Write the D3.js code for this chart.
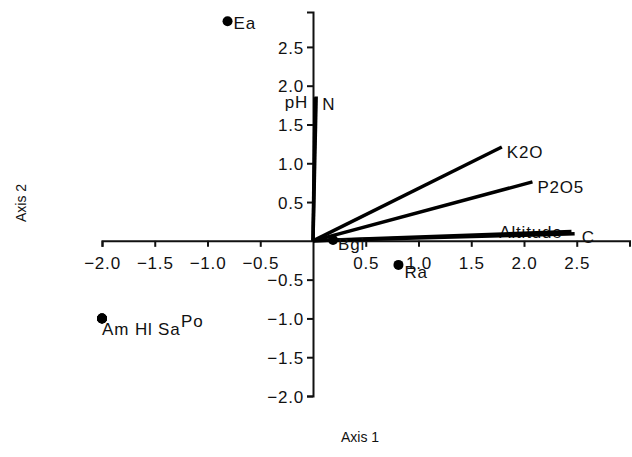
<!DOCTYPE html>
<html>
<head>
<meta charset="utf-8">
<script src="https://cdn.jsdelivr.net/npm/d3@7"></script>
<style>
body { margin: 0; background: #fff; }
svg text { font-family: "Liberation Sans", Arial, sans-serif; fill: #111; }
</style>
</head>
<body>
<svg id="chart" width="632" height="457"></svg>
<script>
// biplot: sites as points, variables as vectors

var xTicks = [-2.0, -1.5, -1.0, -0.5, 0.5, 1.0, 1.5, 2.0, 2.5];
var yTicks = [2.5, 2.0, 1.5, 1.0, 0.5, -0.5, -1.0, -1.5, -2.0];

var vecNames = ['pH', 'N', 'K2O', 'P2O5', 'Altitude', 'C'];
var vecX = [0.02, 0.03, 1.79, 2.08, 2.45, 2.48];
var vecY = [1.85, 1.86, 1.21, 0.76, 0.12, 0.09];

var siteNames = ['Ea', 'Ra', 'Bgi', 'Am', 'Hl', 'Sa', 'Po'];
var siteX = [-0.81, 0.81, 0.19, -2.0, -2.0, -2.0, -2.0];
var siteY = [2.83, -0.31, 0.01, -1.0, -1.0, -1.0, -1.0];

// label nudges (px) so the overlapping ones can be read
var vecLab = {
	'pH': [-7, 11, 'end'], 'N': [6, 13, 'start'], 'K2O': [5, 11, 'start'],
	'P2O5': [5, 11, 'start'], 'Altitude': [-9, 6, 'end'], 'C': [7, 9, 'start']
};
var siteLab = {
	'Ea': [6, 8], 'Ra': [6, 13], 'Bgi': [5, 10],
	'Am': [0, 17], 'Hl': [33, 17], 'Sa': [56, 17], 'Po': [79, 9]
};

var svg = d3.select('#chart');

var x = d3.scaleLinear().domain([-2, 3]).range([102, 629.5]);
var y = d3.scaleLinear().domain([-2, 2.95]).range([396, 12]);

var xAxis = d3.axisBottom(x).tickValues(xTicks).tickSize(6).tickPadding(10)
	.tickFormat(d3.format('.1f'));
var yAxis = d3.axisLeft(y).tickValues(yTicks).tickSize(6).tickPadding(3)
	.tickFormat(d3.format('.1f'));

var gx = svg.append('g').attr('transform', 'translate(0,' + y(0) + ')').call(xAxis);
var gy = svg.append('g').attr('transform', 'translate(' + x(0) + ',0)').call(yAxis);

[gx, gy].forEach(function(g){
	g.select('.domain').attr('stroke', '#111').attr('stroke-width', 2);
	g.selectAll('.tick line').attr('stroke', '#111').attr('stroke-width', 2);
	g.selectAll('.tick text').attr('font-size', 17).attr('fill', '#111')
		.style('letter-spacing', '0.8px')
		.style('font-family', '"Liberation Sans", Arial, sans-serif');
});
gy.selectAll('.tick text').attr('dy', '0.36em');

// axis titles
svg.append('text').attr('x', 360).attr('y', 442).attr('text-anchor', 'middle')
	.attr('font-size', 14).text('Axis 1');
svg.append('text').attr('transform', 'translate(26,203) rotate(-90)')
	.attr('text-anchor', 'middle').attr('font-size', 14).text('Axis 2');

// vector labels under the lines (Altitude is crossed by its line)
var vecData = vecNames.map(function(n, i){ return {name: n, x: vecX[i], y: vecY[i]}; });

svg.selectAll('.vlab').data(vecData).enter().append('text')
	.attr('class', 'vlab')
	.attr('x', function(d){ return x(d.x) + vecLab[d.name][0]; })
	.attr('y', function(d){ return y(d.y) + vecLab[d.name][1]; })
	.attr('text-anchor', function(d){ return vecLab[d.name][2]; })
	.attr('font-size', 17).style('letter-spacing', '0.8px')
	.text(function(d){ return d.name; });

svg.selectAll('.vec').data(vecData).enter().append('line')
	.attr('class', 'vec')
	.attr('x1', x(0)).attr('y1', y(0))
	.attr('x2', function(d){ return x(d.x); })
	.attr('y2', function(d){ return y(d.y); })
	.attr('stroke', '#000').attr('stroke-width', 3.5);

// sites
var siteData = siteNames.map(function(n, i){ return {name: n, x: siteX[i], y: siteY[i]}; });

svg.selectAll('.site').data(siteData).enter().append('circle')
	.attr('class', 'site')
	.attr('cx', function(d){ return x(d.x); })
	.attr('cy', function(d){ return y(d.y); })
	.attr('r', 5).attr('fill', '#000');

svg.selectAll('.slab').data(siteData).enter().append('text')
	.attr('class', 'slab')
	.attr('x', function(d){ return x(d.x) + siteLab[d.name][0]; })
	.attr('y', function(d){ return y(d.y) + siteLab[d.name][1]; })
	.attr('font-size', 17).style('letter-spacing', '0.8px')
	.text(function(d){ return d.name; });
</script>
</body>
</html>
